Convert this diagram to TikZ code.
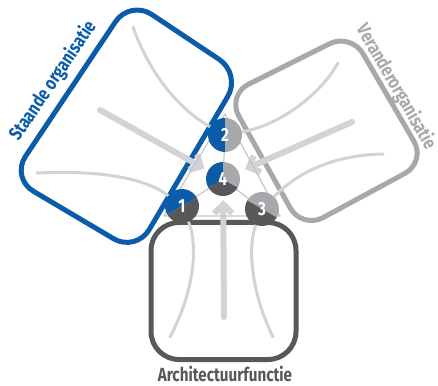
\documentclass[tikz,border=0pt]{standalone}
\usepackage{fontspec}
\newfontfamily\labelfont{Fira Sans}[FakeStretch=0.8]
\usetikzlibrary{arrows.meta}
\definecolor{standblue}{HTML}{0B5CA8}
\definecolor{changegray}{HTML}{A7A8AB}
\definecolor{archgray}{HTML}{58585A}
\definecolor{flowgray}{HTML}{D3D3D5}
\definecolor{linkgray}{HTML}{C6C6C8}

\begin{document}
\begin{tikzpicture}[x=1pt,y=1pt,line cap=round,line join=round,
  frame/.style={line width=5pt},
  flow/.style={flowgray,line width=3pt},
  push/.style={flowgray,line width=6pt,-{Straight Barb[length=9pt,width=18pt]}},
  link/.style={linkgray,line width=1.2pt},
  hub/.style={circle,minimum size=34pt,inner sep=0pt},
  hubnum/.style={text=white,font=\labelfont\bfseries\fontsize{19}{19}\selectfont},
  title/.style={font=\labelfont\bfseries\fontsize{19}{19}\selectfont}]
  \def\hr{17}
  \useasboundingbox (0,0) rectangle (438,385);

  % Hubs of the triangle, numbers are set on top at the end
  \node[hub] (c4) at (223,206) {};
  \node[hub] (c2) at (225,250) {};
  \node[hub] (c1) at (182,179) {};
  \node[hub] (c3) at (262,176) {};

  % The three organisation frames
  \draw[frame,standblue,rounded corners=26pt]
    (130,385) -- (241,311) -- (136,133) -- (11,207) -- cycle;
  \draw[frame,changegray,rounded corners=24pt]
    (227,290) -- (351,352) -- (426,223) -- (302,156) -- cycle;
  \draw[frame,archgray,rounded corners=28pt] (151,162.5) rectangle (296,25.5);

  \node[title,text=standblue,rotate=56] (stand) at (53,304) {Staande organisatie};
  \node[title,text=changegray,rotate=-60] (change) at (396,298) {Veranderorganisatie};
  \node[title,text=archgray] (arch) at (225,11.5) {Architectuurfunctie};

  % Flows from each frame into its two hubs
  \draw[flow] (133,358) .. controls (150,310) and (180,275) .. (c2);
  \draw[flow] (37,212) .. controls (100,215) and (145,207) .. (c1);
  \draw[flow] (338,322) .. controls (320,290) and (280,260) .. (c2);
  \draw[flow] (383,231) .. controls (330,230) and (295,210) .. (c3);
  \draw[flow] (170,48) .. controls (195,95) and (198,140) .. (c1);
  \draw[flow] (273,48) .. controls (250,95) and (248,140) .. (c3);

  % Main push of each frame towards the centre hub
  \coordinate (standfrom) at (100,275);
  \coordinate (changefrom) at (352,263);
  \coordinate (archfrom) at (224,68);
  \draw[push,shorten >=4pt] (standfrom) -- (c4);
  \draw[push,shorten >=7pt] (changefrom) -- (c4);
  \draw[push,shorten >=4pt] (archfrom) -- (c4);

  % Thin triangle behind the hubs
  \coordinate (t1) at (164,169);
  \coordinate (t2) at (225,271);
  \coordinate (t3) at (280,169);
  \draw[link] (t1) -- (t2) -- (t3) -- cycle;
  \draw[link] (c4.center) -- (c1.center);
  \draw[link] (c4.center) -- (c2.center);
  \draw[link] (c4.center) -- (c3.center);

  % Hub fills, one colour per frame
  \fill[standblue] (c1.center) ++(30:\hr) arc[start angle=30,end angle=210,radius=\hr] -- cycle;
  \fill[archgray] (c1.center) ++(210:\hr) arc[start angle=210,end angle=390,radius=\hr] -- cycle;
  \fill[standblue] (c2.center) ++(90:\hr) arc[start angle=90,end angle=270,radius=\hr] -- cycle;
  \fill[changegray] (c2.center) ++(-90:\hr) arc[start angle=-90,end angle=90,radius=\hr] -- cycle;
  \fill[changegray] (c3.center) ++(-30:\hr) arc[start angle=-30,end angle=150,radius=\hr] -- cycle;
  \fill[archgray] (c3.center) ++(150:\hr) arc[start angle=150,end angle=330,radius=\hr] -- cycle;
  \fill[standblue] (c4.center) -- ++(90:\hr) arc[start angle=90,end angle=210,radius=\hr] -- cycle;
  \fill[archgray] (c4.center) -- ++(210:\hr) arc[start angle=210,end angle=330,radius=\hr] -- cycle;
  \fill[changegray] (c4.center) -- ++(-30:\hr) arc[start angle=-30,end angle=90,radius=\hr] -- cycle;

  \node[hubnum] (n1) at (c1) {1};
  \node[hubnum] (n2) at (c2) {2};
  \node[hubnum] (n3) at (c3) {3};
  \node[hubnum] (n4) at (c4) {4};
\end{tikzpicture}
\end{document}
